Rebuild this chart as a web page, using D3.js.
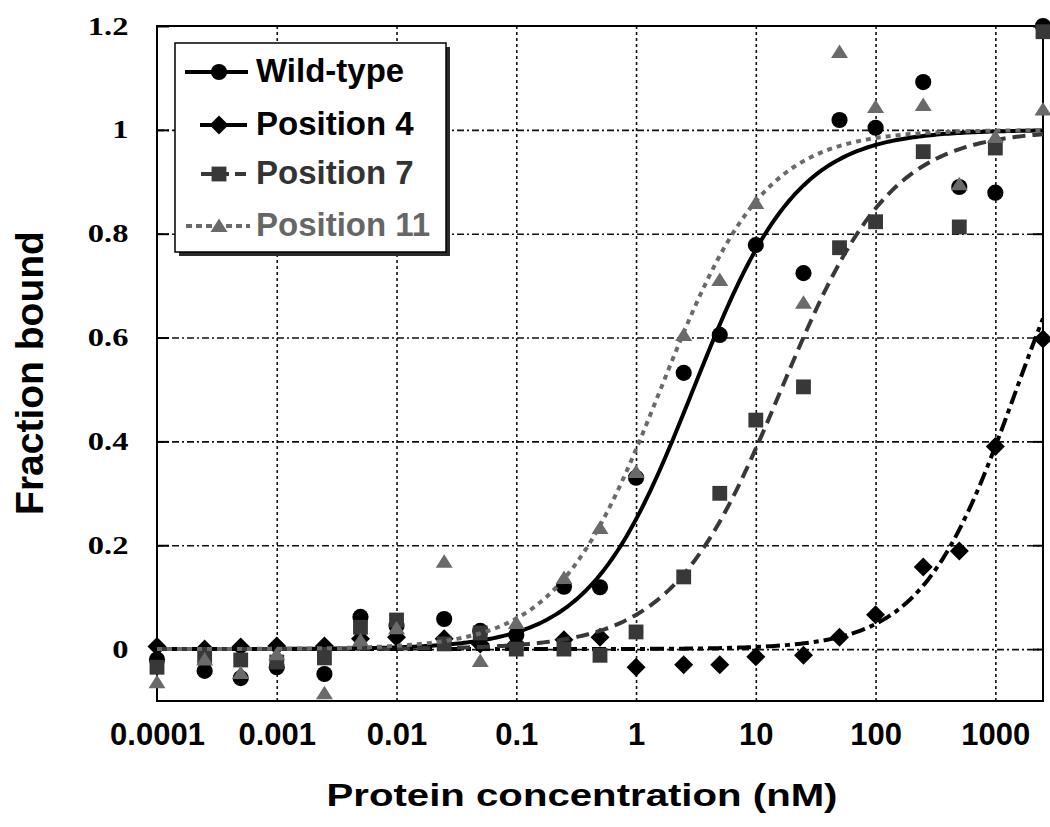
<!DOCTYPE html>
<html>
<head>
<meta charset="utf-8">
<script src="https://cdn.jsdelivr.net/npm/d3@7"></script>
<style>
    body { margin: 0; background: #ffffff; }
    svg { display: block; }
</style>
</head>
<body>
<svg id="chart" width="1050" height="827"></svg>
<script>
"use strict";

// Protein concentrations of the dilution series (nM).
var concentrations = [0.0001, 0.00025, 0.0005, 0.001, 0.0025, 0.005, 0.01, 0.025, 0.05, 0.1,
    0.25, 0.5, 1, 2.5, 5, 10, 25, 50, 100, 250, 500, 1000, 2500];

var series_names = ["Wild-type", "Position 4", "Position 7", "Position 11"];

// Fraction bound, one value per concentration.
var wild_type = [-0.02, -0.042, -0.056, -0.035, -0.048, 0.062, 0.045, 0.058, 0.035, 0.027,
    0.12, 0.119, 0.33, 0.532, 0.605, 0.778, 0.724, 1.019, 1.004, 1.092, 0.89, 0.879, 1.2];
var position_4 = [0.005, 0.0, 0.004, 0.006, 0.006, 0.02, 0.023, 0.02, 0.01, 0.01,
    0.018, 0.023, -0.035, -0.03, -0.03, -0.015, -0.012, 0.023, 0.066, 0.158, 0.189, 0.39, 0.597];
var position_7 = [-0.035, -0.015, -0.021, -0.025, -0.017, 0.042, 0.056, 0.01, 0.031, 0.0,
    0.0, -0.012, 0.033, 0.139, 0.30, 0.441, 0.505, 0.773, 0.823, 0.958, 0.813, 0.965, 1.189];
var position_11 = [-0.064, -0.02, -0.046, -0.01, -0.085, 0.017, 0.04, 0.168, -0.023, 0.05,
    0.137, 0.233, 0.341, 0.605, 0.711, 0.859, 0.667, 1.15, 1.044, 1.048, 0.895, 0.986, 1.039];

// Fitted binding curves: apparent Kd (nM) and Hill slope per series.
var fit_kd = [3.0, 1500, 16.3, 1.6];
var fit_hill = [1.0, 1.1, 0.95, 1.0];

var x_ticks = [0.0001, 0.001, 0.01, 0.1, 1, 10, 100, 1000];
var x_tick_labels = ["0.0001", "0.001", "0.01", "0.1", "1", "10", "100", "1000"];
var y_ticks = [0, 0.2, 0.4, 0.6, 0.8, 1, 1.2];
var y_tick_labels = ["0", "0.2", "0.4", "0.6", "0.8", "1", "1.2"];

var series_values = [wild_type, position_4, position_7, position_11];

// Look of each series (marker, colour, line dashes).
var series_style = [
    { colour: "#000000", shape: "circle",   dash: null,        legend_dash: null,  legend_x: [185, 248] },
    { colour: "#000000", shape: "diamond",  dash: "14,5,5,5",  legend_dash: null,  legend_x: [200, 247] },
    { colour: "#383838", shape: "square",   dash: "13,7",      legend_dash: "11,6", legend_x: [201, 247] },
    { colour: "#6a6a6a", shape: "triangle", dash: "5,5",       legend_dash: "6,4", legend_x: [186, 250] }
];

var plot = { left: 157, right: 1043, top: 26, bottom: 701 };

var svg = d3.select("#chart");

var x = d3.scaleLog().domain([0.0001, 2500]).range([plot.left, plot.right]);
var y = d3.scaleLinear().domain([-0.1, 1.2]).range([plot.bottom, plot.top]);

svg.append("rect").attr("width", 1050).attr("height", 827).attr("fill", "#ffffff");

svg.append("defs").append("clipPath").attr("id", "plot-clip")
    .append("rect")
    .attr("x", plot.left).attr("y", plot.top)
    .attr("width", plot.right - plot.left).attr("height", plot.bottom - plot.top);

// Grid lines: dotted verticals at each decade, dash-dot horizontals.
var grid_v = svg.append("g")
    .attr("transform", "translate(0," + plot.bottom + ")")
    .call(d3.axisBottom(x).tickValues(x_ticks.slice(1)).tickSize(-(plot.bottom - plot.top)).tickFormat(""));
grid_v.select(".domain").remove();
grid_v.selectAll("line").attr("stroke", "#111").attr("stroke-width", 1.6).attr("stroke-dasharray", "3,3");

var grid_h = svg.append("g")
    .attr("transform", "translate(" + plot.left + ",0)")
    .call(d3.axisLeft(y).tickValues(y_ticks.slice(0, -1)).tickSize(-(plot.right - plot.left)).tickFormat(""));
grid_h.select(".domain").remove();
grid_h.selectAll("line").attr("stroke", "#111").attr("stroke-width", 1.6).attr("stroke-dasharray", "7,3,2,3");

// Plot frame.
svg.append("rect")
    .attr("x", plot.left).attr("y", plot.top)
    .attr("width", plot.right - plot.left).attr("height", plot.bottom - plot.top)
    .attr("fill", "none").attr("stroke", "#000").attr("stroke-width", 2);

// Y axis: inward ticks on both sides, wide serif labels on the left.
var y_axis = svg.append("g")
    .attr("transform", "translate(" + plot.left + ",0)")
    .call(d3.axisLeft(y).tickValues(y_ticks).tickSize(-12).tickPadding(22)
        .tickFormat(function(d, i) { return y_tick_labels[i]; }));
y_axis.select(".domain").remove();
y_axis.selectAll("line").attr("stroke", "#000").attr("stroke-width", 2);
y_axis.selectAll("text")
    .attr("transform", "scale(1.3,1)")
    .style("font-family", "'Liberation Serif', 'Times New Roman', serif")
    .style("font-weight", "bold")
    .style("font-size", "25px")
    .attr("fill", "#000");

var y_axis_right = svg.append("g")
    .attr("transform", "translate(" + plot.right + ",0)")
    .call(d3.axisRight(y).tickValues(y_ticks).tickSize(-10).tickFormat(""));
y_axis_right.select(".domain").remove();
y_axis_right.selectAll("line").attr("stroke", "#000").attr("stroke-width", 2);

// X axis labels.
var x_axis = svg.append("g")
    .attr("transform", "translate(0," + plot.bottom + ")")
    .call(d3.axisBottom(x).tickValues(x_ticks).tickSize(0)
        .tickFormat(function(d, i) { return x_tick_labels[i]; }));
x_axis.select(".domain").remove();
x_axis.selectAll("text")
    .attr("y", 44).attr("dy", 0)
    .style("font-family", "'Liberation Sans', Arial, sans-serif")
    .style("font-weight", "bold")
    .style("font-size", "31px")
    .attr("fill", "#000");

// Axis titles.
svg.append("text")
    .attr("x", 582).attr("y", 806)
    .attr("text-anchor", "middle")
    .attr("textLength", 511).attr("lengthAdjust", "spacingAndGlyphs")
    .style("font-family", "'Liberation Sans', Arial, sans-serif")
    .style("font-weight", "bold")
    .style("font-size", "32px")
    .text("Protein concentration (nM)");

svg.append("text")
    .attr("transform", "translate(43,373) rotate(-90)")
    .attr("text-anchor", "middle")
    .style("font-family", "'Liberation Sans', Arial, sans-serif")
    .style("font-weight", "bold")
    .style("font-size", "39px")
    .text("Fraction bound");

// Marker path for a series shape.
function marker_path(shape) {
    if (shape === "circle") return d3.symbol(d3.symbolCircle, 205)();
    if (shape === "square") return d3.symbol(d3.symbolSquare, 220)();
    if (shape === "triangle") return "M0,-7.5L8.5,6L-8.5,6Z";
    return "M0,-9.5L9.5,0L0,9.5L-9.5,0Z";
}

// Sample points along the log axis for the fitted curves.
var curve_steps = 300;
var curve_x = d3.range(curve_steps + 1).map(function(i) {
    return Math.pow(10, Math.log10(0.0001) + i * (Math.log10(2500) - Math.log10(0.0001)) / curve_steps);
});

var line = d3.line()
    .x(function(d) { return x(d[0]); })
    .y(function(d) { return y(d[1]); });

series_values.forEach(function(values, s) {
    var style = series_style[s];
    var kd = fit_kd[s], n = fit_hill[s];
    var fit_points = curve_x.map(function(c) {
        var t = Math.pow(c, n);
        return [c, t / (Math.pow(kd, n) + t)];
    });

    var group = svg.append("g").attr("class", "series");

    group.append("path")
        .attr("clip-path", "url(#plot-clip)")
        .attr("d", line(fit_points))
        .attr("fill", "none")
        .attr("stroke", style.colour)
        .attr("stroke-width", 4)
        .attr("stroke-dasharray", style.dash);

    group.selectAll("path.marker")
        .data(values)
        .enter().append("path")
        .attr("class", "marker")
        .attr("transform", function(d, i) {
            return "translate(" + x(concentrations[i]) + "," + y(d) + ")";
        })
        .attr("d", marker_path(style.shape))
        .attr("fill", style.colour);
});

// Legend box with drop shadow.
var legend = svg.append("g").attr("class", "legend");
legend.append("rect")
    .attr("x", 179).attr("y", 47).attr("width", 271).attr("height", 209)
    .attr("fill", "#2a2a2a");
legend.append("rect")
    .attr("x", 175).attr("y", 43).attr("width", 271).attr("height", 209)
    .attr("fill", "#ffffff").attr("stroke", "#000").attr("stroke-width", 1.5);

var legend_row_y = [72, 125, 174, 226];

series_names.forEach(function(name, s) {
    var style = series_style[s];
    var ly = legend_row_y[s];
    legend.append("line")
        .attr("x1", style.legend_x[0]).attr("x2", style.legend_x[1])
        .attr("y1", ly).attr("y2", ly)
        .attr("stroke", style.colour)
        .attr("stroke-width", 4)
        .attr("stroke-dasharray", style.legend_dash);
    legend.append("path")
        .attr("transform", "translate(219," + ly + ")")
        .attr("d", marker_path(style.shape))
        .attr("fill", style.colour);
    legend.append("text")
        .attr("x", 256).attr("y", ly + 10)
        .style("font-family", "'Liberation Sans', Arial, sans-serif")
        .style("font-weight", "bold")
        .style("font-size", "33px")
        .attr("fill", s === 2 ? "#333333" : (s === 3 ? "#666666" : "#000000"))
        .text(name);
});
</script>
</body>
</html>
